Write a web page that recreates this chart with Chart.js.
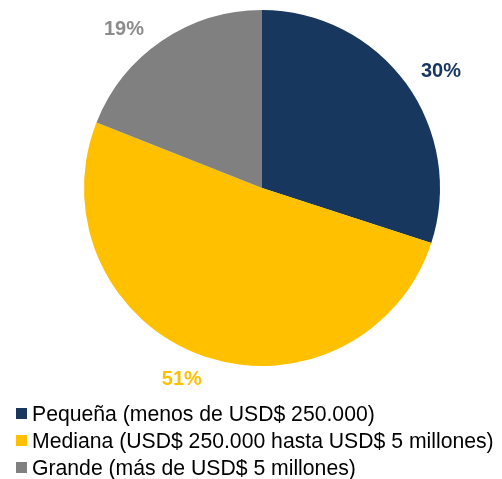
<!DOCTYPE html>
<html>
<head>
<meta charset="utf-8">
<script src="https://cdn.jsdelivr.net/npm/chart.js@4.4.0/dist/chart.umd.min.js"></script>
<style>
  html, body { margin: 0; padding: 0; background: #ffffff; }
  #wrap { position: relative; width: 502px; height: 479px; overflow: hidden; }
  #c { position: absolute; left: 0; top: 0; }
  #legend { position: absolute; left: 16px; top: 400px; font-family: "Liberation Sans", Arial, sans-serif; font-size: 21.2px; color: #000; }
  .item { display: flex; align-items: center; height: 27px; white-space: nowrap; }
  .sw { width: 11px; height: 11px; margin-right: 5px; flex: none; }
</style>
</head>
<body>
<div id="wrap">
  <canvas id="c" width="502" height="479"></canvas>
  <div id="legend"></div>
</div>
<script>
const categories = [
  "Pequeña (menos de USD$ 250.000)",
  "Mediana (USD$ 250.000 hasta USD$ 5 millones)",
  "Grande (más de USD$ 5 millones)"
];
const values = [30, 51, 19];
const percentLabels = ["30%", "51%", "19%"];
const colors = ["#17375E", "#FFC000", "#808080"];
const labelColors = ["#17375E", "#FFC000", "#8C8C8C"];
// manual nudges of the data labels (style only), in px
const labelNudgeX = [9, -9, -20];
const labelNudgeY = [1, 3, 7];

const outsideLabels = {
  id: 'outsideLabels',
  afterDatasetsDraw(chart) {
    const ctx = chart.ctx;
    const meta = chart.getDatasetMeta(0);
    ctx.save();
    ctx.font = 'bold 20px "Liberation Sans", Arial, sans-serif';
    ctx.textAlign = 'center';
    ctx.textBaseline = 'middle';
    meta.data.forEach((arc, i) => {
      const mid = (arc.startAngle + arc.endAngle) / 2;
      const dx = Math.cos(mid), dy = Math.sin(mid);
      const d = arc.outerRadius + 12;
      const w = ctx.measureText(percentLabels[i]).width;
      const h = 20;
      const x = arc.x + dx * d + dx * w / 2 + labelNudgeX[i];
      const y = arc.y + dy * d + dy * h / 2 + labelNudgeY[i];
      ctx.fillStyle = labelColors[i];
      ctx.fillText(percentLabels[i], x, y);
    });
    ctx.restore();
  }
};

new Chart(document.getElementById('c'), {
  type: 'pie',
  data: {
    labels: categories,
    datasets: [{
      data: values,
      backgroundColor: colors,
      borderWidth: 0
    }]
  },
  options: {
    responsive: false,
    animation: false,
    layout: { padding: { left: 84, right: 62, top: 10, bottom: 113 } },
    plugins: {
      legend: { display: false },
      tooltip: { enabled: false }
    }
  },
  plugins: [outsideLabels]
});

const lg = document.getElementById('legend');
categories.forEach((name, i) => {
  const row = document.createElement('div');
  row.className = 'item';
  const sw = document.createElement('span');
  sw.className = 'sw';
  sw.style.background = colors[i];
  const t = document.createElement('span');
  t.textContent = name;
  row.appendChild(sw);
  row.appendChild(t);
  lg.appendChild(row);
});
</script>
</body>
</html>
